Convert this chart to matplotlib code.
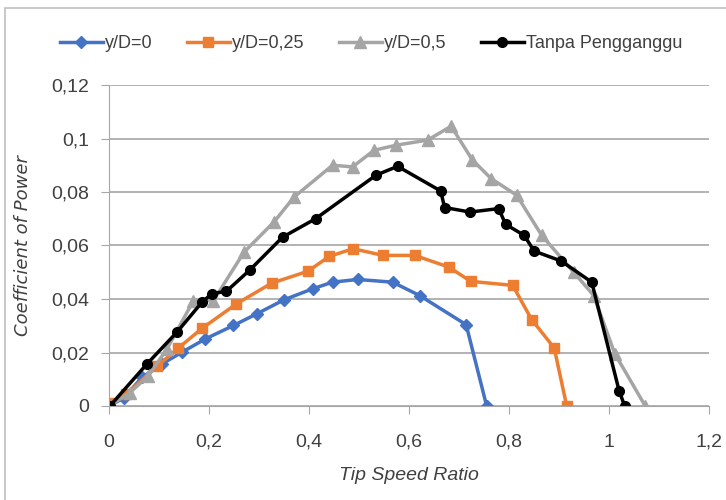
import matplotlib
matplotlib.use("Agg")
import matplotlib.pyplot as plt
from matplotlib.ticker import FuncFormatter, MultipleLocator
from matplotlib.patches import Rectangle

plt.rcParams['font.family'] = ['Liberation Sans', 'DejaVu Sans']

# y/D = 0
tsr_0 = [0.0, 0.03, 0.066, 0.106, 0.146, 0.193, 0.249, 0.296, 0.350, 0.407, 0.447, 0.497, 0.567, 0.621, 0.714, 0.755]
cp_0 = [0.0, 0.003, 0.0107, 0.0157, 0.0201, 0.0251, 0.0301, 0.0345, 0.0397, 0.0438, 0.0463, 0.0473, 0.0463, 0.0413, 0.0304, 0.0]

# y/D = 0,25
tsr_25 = [0.0, 0.035, 0.096, 0.139, 0.186, 0.255, 0.325, 0.398, 0.440, 0.488, 0.548, 0.611, 0.680, 0.723, 0.807, 0.845, 0.890, 0.915]
cp_25 = [0.001, 0.0045, 0.0148, 0.0217, 0.029, 0.0382, 0.0459, 0.0504, 0.0559, 0.0588, 0.0563, 0.0563, 0.0519, 0.0466, 0.0451, 0.0323, 0.0217, 0.0]

# y/D = 0,5
tsr_5 = [0.0, 0.042, 0.079, 0.116, 0.169, 0.209, 0.270, 0.330, 0.370, 0.447, 0.487, 0.530, 0.574, 0.637, 0.684,
         0.726, 0.764, 0.815, 0.865, 0.929, 0.969, 1.011, 1.072]
cp_5 = [0.0, 0.005, 0.0113, 0.0213, 0.0394, 0.0394, 0.0575, 0.0688, 0.0781, 0.090, 0.0894, 0.0956, 0.0975, 0.0994, 0.1046,
        0.0921, 0.085, 0.0788, 0.0638, 0.050, 0.0413, 0.0196, 0.0]

# Tanpa Pengganggu
tsr_tp = [0.002, 0.076, 0.136, 0.186, 0.206, 0.235, 0.282, 0.347, 0.413, 0.534, 0.577, 0.663, 0.671, 0.722, 0.779,
          0.793, 0.830, 0.850, 0.904, 0.965, 1.020, 1.031]
cp_tp = [0.0, 0.0157, 0.0276, 0.0388, 0.042, 0.0429, 0.0509, 0.0631, 0.070, 0.0863, 0.0896, 0.0804, 0.0742, 0.0725, 0.0738,
         0.0679, 0.0638, 0.0579, 0.0542, 0.0463, 0.0055, 0.0]

fig = plt.figure(figsize=(7.26, 5.0), dpi=100)
ax = fig.add_axes([0.150, 0.188, 0.827, 0.642])

ax.plot(tsr_0, cp_0, color='#4472C4', lw=2.5, marker='D', ms=6, label='y/D=0')
ax.plot(tsr_25, cp_25, color='#ED7D31', lw=2.5, marker='s', ms=7, label='y/D=0,25')
ax.plot(tsr_5, cp_5, color='#A5A5A5', lw=2.5, marker='^', ms=8, label='y/D=0,5')
ax.plot(tsr_tp, cp_tp, color='black', lw=2.5, marker='o', ms=7, label='Tanpa Pengganggu')

ax.set_xlim(0, 1.2)
ax.set_ylim(0, 0.12)
ax.xaxis.set_major_locator(MultipleLocator(0.2))
ax.yaxis.set_major_locator(MultipleLocator(0.02))
fmt = FuncFormatter(lambda v, p: ('%g' % round(v, 3)).replace('.', ','))
ax.xaxis.set_major_formatter(fmt)
ax.yaxis.set_major_formatter(fmt)

ax.grid(axis='y', color='#A6A6A6', lw=1.2)
ax.set_axisbelow(True)
for s in ['top', 'right']:
    ax.spines[s].set_visible(False)
ax.spines['left'].set_color('#A6A6A6')
ax.spines['bottom'].set_color('#A6A6A6')
ax.tick_params(axis='both', colors='#A6A6A6', labelcolor='#404040', labelsize=14, length=6)
ax.tick_params(axis='x', pad=14)
ax.tick_params(axis='y', pad=8)

ax.set_xlabel('Tip Speed Ratio', fontsize=14, style='italic', color='#404040', labelpad=12)
ax.set_ylabel('Coefficient of Power', fontsize=13, style='italic', color='#404040',
              family=['DejaVu Sans'], labelpad=14)

ax.legend(loc='center', bbox_to_anchor=(0.511, 0.912), bbox_transform=fig.transFigure,
          ncol=4, frameon=False, fontsize=13, handlelength=2.4, columnspacing=1.9,
          handletextpad=0.1, labelcolor='#404040')

fig.patches.append(Rectangle((0.007, -0.01), 1.0, 0.995, transform=fig.transFigure,
                             fill=False, edgecolor='#BFBFBF', lw=1.2))

fig.savefig('out.png', dpi=100)
